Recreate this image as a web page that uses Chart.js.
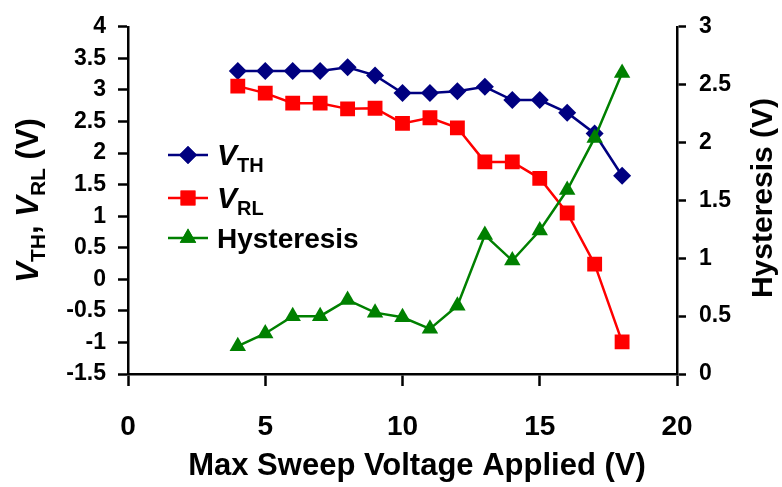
<!DOCTYPE html>
<html>
<head>
<meta charset="utf-8">
<script src="https://cdn.jsdelivr.net/npm/chart.js@4.4.0/dist/chart.umd.min.js"></script>
<style>
  body { margin: 0; background: #fff; }
  #chart { display: block; }
</style>
</head>
<body>
<canvas id="chart" width="782" height="487"></canvas>
<script>
// Data
const sweepV = [4, 5, 6, 7, 8, 9, 10, 11, 12, 13, 14, 15, 16, 17, 18];
const vth = [3.30, 3.30, 3.30, 3.30, 3.36, 3.23, 2.95, 2.95, 2.98, 3.05, 2.84, 2.84, 2.64, 2.31, 1.64];
const vrl = [3.06, 2.95, 2.79, 2.79, 2.70, 2.71, 2.47, 2.56, 2.40, 1.86, 1.86, 1.60, 1.05, 0.24, -0.99];
const hyst = [0.24, 0.35, 0.50, 0.50, 0.64, 0.53, 0.49, 0.39, 0.59, 1.20, 0.98, 1.24, 1.59, 2.04, 2.60];

const FONT = '"Liberation Sans", Arial, sans-serif';
const NAVY = '#000080';
const RED = '#ff0000';
const GREEN = '#008000';

function pts(ys) {
    return sweepV.map((x, i) => ({ x: x, y: ys[i] }));
}

// plain tick numbers: 4, 3.5, -1 ...
function fmt(v) {
    return String(Math.round(v * 10) / 10);
}

// draws "V" + subscript pieces, returns end x
function drawSubText(ctx, parts, x, y) {
    parts.forEach(p => {
        ctx.font = p.font;
        ctx.fillText(p.text, x, y + (p.dy || 0));
        x += ctx.measureText(p.text).width;
    });
    return x;
}

function textWidth(ctx, parts) {
    let w = 0;
    parts.forEach(p => { ctx.font = p.font; w += ctx.measureText(p.text).width; });
    return w;
}

// Axis titles and legend with subscripts
const decorPlugin = {
    id: 'decor',
    afterDraw(chart) {
        const ctx = chart.ctx;
        const area = chart.chartArea;
        ctx.save();
        ctx.fillStyle = '#000';

        // x title
        ctx.font = 'bold 31px ' + FONT;
        ctx.textAlign = 'center';
        ctx.textBaseline = 'middle';
        ctx.fillText('Max Sweep Voltage Applied (V)', 417, 466);

        // left title
        const big = 'italic bold 31px ' + FONT;
        const bold = 'bold 31px ' + FONT;
        const sub = 'bold 21px ' + FONT;
        const leftParts = [
            { text: 'V', font: big },
            { text: 'TH', font: sub, dy: 7 },
            { text: ', ', font: bold },
            { text: 'V', font: big },
            { text: 'RL', font: sub, dy: 7 },
            { text: ' (V)', font: bold }
        ];
        ctx.textAlign = 'left';
        ctx.textBaseline = 'alphabetic';
        ctx.save();
        ctx.translate(38, (area.top + area.bottom) / 2);
        ctx.rotate(-Math.PI / 2);
        const lw = textWidth(ctx, leftParts);
        drawSubText(ctx, leftParts, -lw / 2, 0);
        ctx.restore();

        // right title
        ctx.save();
        ctx.translate(764, 198);
        ctx.rotate(-Math.PI / 2);
        ctx.font = 'bold 30px ' + FONT;
        ctx.textAlign = 'center';
        ctx.textBaseline = 'middle';
        ctx.fillText('Hysteresis (V)', 0, 0);
        ctx.restore();

        // legend
        const items = [
            { color: NAVY, style: 'rectRot', r: 9, y: 155,
              parts: [{ text: 'V', font: 'italic bold 30px ' + FONT }, { text: 'TH', font: 'bold 20px ' + FONT, dy: 7 }] },
            { color: RED, style: 'rect', r: 10.5, y: 198,
              parts: [{ text: 'V', font: 'italic bold 30px ' + FONT }, { text: 'RL', font: 'bold 20px ' + FONT, dy: 7 }] },
            { color: GREEN, style: 'triangle', r: 9.5, y: 238,
              parts: [{ text: 'Hysteresis', font: 'bold 28px ' + FONT }] }
        ];
        items.forEach(it => {
            ctx.strokeStyle = it.color;
            ctx.lineWidth = 2.5;
            ctx.beginPath();
            ctx.moveTo(168, it.y);
            ctx.lineTo(208, it.y);
            ctx.stroke();
            ctx.fillStyle = it.color;
            Chart.helpers.drawPoint(ctx, { pointStyle: it.style, radius: it.r, borderWidth: 0 }, 188, it.y);
            ctx.fill();
            ctx.fillStyle = '#000';
            ctx.textAlign = 'left';
            ctx.textBaseline = 'alphabetic';
            drawSubText(ctx, it.parts, 217, it.y + 10);
        });
        ctx.restore();
    }
};

function series(label, ys, color, style, radius, axis, order) {
    return {
        label: label,
        data: pts(ys),
        yAxisID: axis,
        borderColor: color,
        backgroundColor: color,
        borderWidth: 2.5,
        pointStyle: style,
        pointRadius: radius,
        pointBorderWidth: 0,
        pointBackgroundColor: color,
        order: order
    };
}

const axisGrid = {
    drawOnChartArea: false,
    drawTicks: true,
    tickLength: 10,
    tickWidth: 2.5,
    tickColor: '#000'
};
const axisBorder = { display: true, color: '#000', width: 2.5 };

new Chart(document.getElementById('chart').getContext('2d'), {
    type: 'line',
    data: {
        datasets: [
            series('VTH', vth, NAVY, 'rectRot', 9, 'y', 3),
            series('VRL', vrl, RED, 'rect', 10.5, 'y', 2),
            series('Hysteresis', hyst, GREEN, 'triangle', 9.5, 'y1', 1)
        ]
    },
    options: {
        responsive: false,
        animation: false,
        devicePixelRatio: 1,
        layout: { padding: { top: 21, left: 0, right: 0, bottom: 0 } },
        plugins: {
            legend: { display: false },
            tooltip: { enabled: false }
        },
        scales: {
            x: {
                type: 'linear',
                min: 0,
                max: 20,
                ticks: { stepSize: 5, color: '#000', padding: 24, callback: fmt, font: { family: FONT, size: 28, weight: 'bold' } },
                grid: Object.assign({}, axisGrid, { tickLength: 12 }),
                border: axisBorder,
                afterFit: s => { s.height = 113; }
            },
            y: {
                type: 'linear',
                position: 'left',
                min: -1.5,
                max: 4,
                ticks: { stepSize: 0.5, color: '#000', padding: 12, callback: fmt, font: { family: FONT, size: 23, weight: 'bold' } },
                grid: axisGrid,
                border: axisBorder,
                afterFit: s => { s.width = 128; }
            },
            y1: {
                type: 'linear',
                position: 'right',
                min: 0,
                max: 3,
                ticks: { stepSize: 0.5, color: '#000', padding: 13, callback: fmt, font: { family: FONT, size: 23, weight: 'bold' } },
                grid: Object.assign({}, axisGrid, { tickLength: 9 }),
                border: axisBorder,
                afterFit: s => { s.width = 105; }
            }
        }
    },
    plugins: [decorPlugin]
});
</script>
</body>
</html>
